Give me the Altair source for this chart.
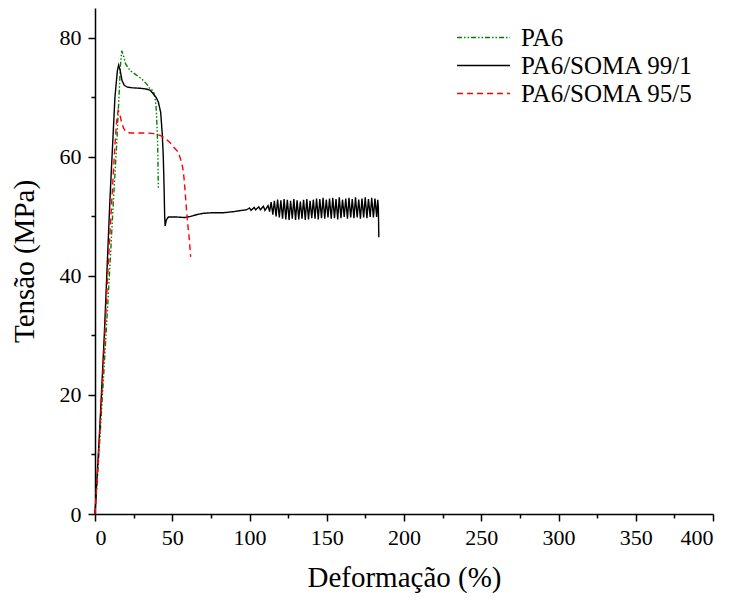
import altair as alt
import pandas as pd

SERIES = ["PA6", "PA6/SOMA 99/1", "PA6/SOMA 95/5"]
COLORS = ["#008000", "#000000", "#FF0000"]
DASHES = [[5, 2, 1.5, 2, 1.5, 2], [1, 0], [6, 4]]

pa6_x = [0, 3, 6, 9.3, 12, 14, 15.5, 16.5, 17.3, 18.2, 19.8, 22.7, 25.9, 30.2, 33.5,
         35.6, 37.7, 38.8, 39.5, 39.9, 40.3, 40.6, 41.0]
pa6_y = [0, 12, 25, 40, 53, 62, 70, 75.5, 77.8, 77.2, 75.6, 74.5, 73.9, 73.1, 72.2,
         71.4, 71.1, 70.0, 68.5, 66.6, 64.0, 61.6, 54.6]

b_x = [0, 3, 6, 9.7, 12.9, 14.5, 15.3, 16.3, 17.5, 19, 21, 24, 30, 33, 35.6, 37.7,
       39.5, 41, 42.5, 43.5, 44.2, 44.7, 45.1, 45.4, 46.2, 47.5, 52, 58, 62, 66, 70,
       75, 83, 90, 95, 98, 100, 101, 103, 104, 106, 107, 109, 110, 112, 113]
b_y = [0, 14, 30, 53, 70, 74.5, 75.4, 74.5, 72.8, 72.0, 71.7, 71.6, 71.5, 71.4, 71.2, 70.6,
       70.0, 69.2, 67.5, 64.0, 60.0, 55.0, 50.0, 48.4, 49.4, 49.9, 49.9, 49.8, 50.0, 50.3, 50.5,
       50.6, 50.6, 50.8, 51.0, 51.1, 51.4, 51.0, 51.5, 51.1, 51.6, 51.1, 51.7, 51.0, 51.8, 50.8]
osc_x = [114.0, 115.1, 116.1, 117.2, 118.2, 119.3, 120.3, 121.4, 122.4, 123.5,
         124.5, 125.6, 126.6, 127.7, 128.7, 129.8, 130.8, 131.9, 132.9, 134.0,
         135.0, 136.1, 137.1, 138.2, 139.2, 140.3, 141.3, 142.4, 143.4, 144.5,
         145.5, 146.6, 147.6, 148.7, 149.7, 150.8, 151.8, 152.9, 153.9, 155.0,
         156.0, 157.1, 158.1, 159.2, 160.2, 161.3, 162.3, 163.4, 164.4, 165.5,
         166.5, 167.6, 168.6, 169.7, 170.7, 171.8, 172.8, 173.9, 174.9, 176.0,
         177.0, 178.1, 179.1, 180.2, 181.2, 182.3, 183.0]
osc_y = [52.4, 50.3, 52.6, 50.0, 52.8, 49.8, 52.7, 49.6, 52.9, 49.5,
         52.8, 49.4, 52.6, 49.6, 52.9, 49.4, 52.7, 49.5, 52.5, 49.6,
         52.8, 49.4, 52.9, 49.5, 52.6, 49.7, 52.8, 49.6, 53.0, 49.5,
         52.9, 49.7, 53.1, 49.6, 52.8, 49.8, 53.0, 49.6, 53.1, 49.7,
         52.9, 49.5, 53.2, 49.7, 52.8, 49.9, 53.0, 49.6, 53.1, 49.8,
         52.9, 49.7, 53.2, 49.8, 52.8, 49.6, 53.0, 49.8, 53.2, 49.7,
         52.9, 49.9, 53.1, 49.8, 53.0, 49.9, 52.8]
end_x = [183.4, 183.7]
end_y = [51.5, 46.5]

r_x = [0, 3, 6, 8.2, 10.5, 12.9, 14, 15, 15.8, 17, 18.5, 20, 22.7, 25, 33.4, 38, 42.1,
       45, 48.5, 51, 53.9, 55.5, 56.7, 57.6, 58.3, 59.1, 59.8, 60.5, 61.1, 61.9]
r_y = [0, 13, 28, 40, 51, 62, 66, 67.8, 67.5, 66, 64.8, 64.2, 64.0, 64.0, 64.0, 63.9, 63.6,
       63.2, 62.4, 61.6, 60.8, 59.5, 58.3, 56.5, 54.3, 51.5, 49.3, 47.5, 46.0, 43.2]

X_MAJOR = [0, 50, 100, 150, 200, 250, 300, 350, 400]
X_MINOR = [25, 75, 125, 175, 225, 275, 325, 375]
Y_MAJOR = [0, 20, 40, 60, 80]
Y_MINOR = [10, 30, 50, 70]

rows = []
for name, xs, ys in [
    (SERIES[0], pa6_x, pa6_y),
    (SERIES[1], b_x + osc_x + end_x, b_y + osc_y + end_y),
    (SERIES[2], r_x, r_y),
]:
    assert len(xs) == len(ys)
    for i, (a, b) in enumerate(zip(xs, ys)):
        rows.append({"s": name, "x": a, "y": b, "i": i})
df = pd.DataFrame(rows)

FONT = "Liberation Serif"
xs = alt.Scale(domain=[0, 400], nice=False, zero=False)
ys = alt.Scale(domain=[0, 85], nice=False, zero=False)

lines = alt.Chart(df).mark_line(strokeWidth=1.4, clip=False).encode(
    x=alt.X("x:Q", scale=xs, axis=alt.Axis(
        values=X_MAJOR, title="Deformação (%)", orient="bottom", tickSize=7,
        labelPadding=6, titlePadding=15)),
    y=alt.Y("y:Q", scale=ys, axis=alt.Axis(
        values=Y_MAJOR, title="Tensão (MPa)", orient="left", tickSize=7,
        labelPadding=7, titlePadding=20)),
    color=alt.Color("s:N", scale=alt.Scale(domain=SERIES, range=COLORS),
                    sort=SERIES,
                    legend=alt.Legend(title=None, orient="none", legendX=401, legendY=17,
                                      padding=0, symbolType="M-34.3,0H1", symbolSize=9,
                                      symbolStrokeWidth=1.4, labelFont=FONT,
                                      labelFontSize=25, labelColor="black", labelLimit=400,
                                      rowPadding=2, labelOffset=0)),
    strokeDash=alt.StrokeDash("s:N", scale=alt.Scale(domain=SERIES, range=DASHES),
                              sort=SERIES, legend=alt.Legend(title=None)),
    order="i:Q",
)

minor = alt.Chart(df).mark_point(opacity=0).encode(
    x=alt.X("x:Q", scale=xs, axis=alt.Axis(
        values=X_MINOR, labels=False, domain=False, title=None, orient="bottom", tickSize=4)),
    y=alt.Y("y:Q", scale=ys, axis=alt.Axis(
        values=Y_MINOR, labels=False, domain=False, title=None, orient="left", tickSize=4)),
)

chart = alt.layer(lines, minor).resolve_axis(x="independent", y="independent").properties(
    width=618, height=506,
    autosize=alt.AutoSizeParams(type="none"),
    padding={"left": 87, "top": 0, "right": 15, "bottom": 80},
).configure_view(strokeWidth=0).configure_axis(
    grid=False, domainColor="black", domainWidth=1.5, tickColor="black", tickWidth=1.5,
    labelFont=FONT, labelFontSize=22, labelColor="black",
    titleFont=FONT, titleFontSize=29, titleFontWeight="normal", titleColor="black",
)

chart.save("out.html", embed_options={"renderer": "svg", "actions": False})
